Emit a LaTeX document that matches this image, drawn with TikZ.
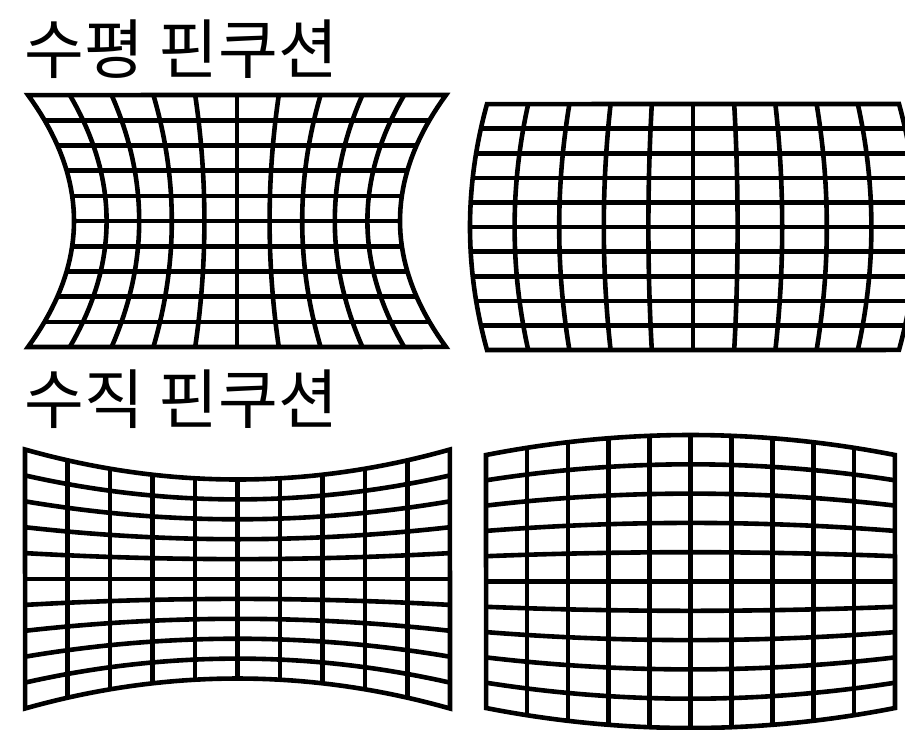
\documentclass[tikz,border=0pt]{standalone}
\usepackage{fontspec}
\newfontfamily\krfont{Noto Sans CJK KR}
\usetikzlibrary{positioning}
\tikzset{
  gline/.style={draw=black, line width=2.3pt},
  ttl/.style={font=\krfont\fontsize{32.5}{36}\selectfont, inner sep=0pt, anchor=base west},
  declare function={
    sq(\t)=(2*\t-1)*(2*\t-1);
    wA(\t)=163+46*sq(\t);
    wB(\t)=223-17*sq(\t);
    hC(\t)=99.5+30*sq(\t);
    hD(\t)=146.5-20*sq(\t);
  },
}

\begin{document}
\begin{tikzpicture}[x=0.5pt, y=-0.5pt]
\useasboundingbox (0,0) rectangle (905,729);
\clip (0,0) rectangle (905,729);

\node[ttl] (ttlH) at (24,73) {수평 핀쿠션};
\node[ttl] (ttlV) at (24,423) {수직 핀쿠션};

% horizontal pincushion
\draw[gline] plot[variable=\t, domain=0:1, samples=41] ({237+wA(\t)}, {95+252*\t})
  -- plot[variable=\t, domain=1:0, samples=41] ({237-wA(\t)}, {95+252*\t}) -- cycle;
\foreach \k in {1,...,9}{
  \draw[gline] ({237-wA(\k/10)}, {95+25.2*\k}) -- ({237+wA(\k/10)}, {95+25.2*\k});
  \draw[gline] plot[variable=\t, domain=0:1, samples=41] ({237+(\k/5-1)*wA(\t)}, {95+252*\t});
}

% horizontal barrel
\draw[gline] plot[variable=\t, domain=0:1, samples=41] ({693+wB(\t)}, {104+246*\t})
  -- plot[variable=\t, domain=1:0, samples=41] ({693-wB(\t)}, {104+246*\t}) -- cycle;
\foreach \k in {1,...,9}{
  \draw[gline] ({693-wB(\k/10)}, {104+24.6*\k}) -- ({693+wB(\k/10)}, {104+24.6*\k});
  \draw[gline] plot[variable=\t, domain=0:1, samples=41] ({693+(\k/5-1)*wB(\t)}, {104+246*\t});
}

% vertical pincushion
\draw[gline] plot[variable=\t, domain=0:1, samples=41] ({25+425*\t}, {579-hC(\t)})
  -- plot[variable=\t, domain=1:0, samples=41] ({25+425*\t}, {579+hC(\t)}) -- cycle;
\foreach \k in {1,...,9}{
  \draw[gline] ({25+42.5*\k}, {579-hC(\k/10)}) -- ({25+42.5*\k}, {579+hC(\k/10)});
  \draw[gline] plot[variable=\t, domain=0:1, samples=41] ({25+425*\t}, {579+(\k/5-1)*hC(\t)});
}

% vertical barrel
\draw[gline] plot[variable=\t, domain=0:1, samples=41] ({486+409*\t}, {581.5-hD(\t)})
  -- plot[variable=\t, domain=1:0, samples=41] ({486+409*\t}, {581.5+hD(\t)}) -- cycle;
\foreach \k in {1,...,9}{
  \draw[gline] ({486+40.9*\k}, {581.5-hD(\k/10)}) -- ({486+40.9*\k}, {581.5+hD(\k/10)});
  \draw[gline] plot[variable=\t, domain=0:1, samples=41] ({486+409*\t}, {581.5+(\k/5-1)*hD(\t)});
}
\end{tikzpicture}
\end{document}
